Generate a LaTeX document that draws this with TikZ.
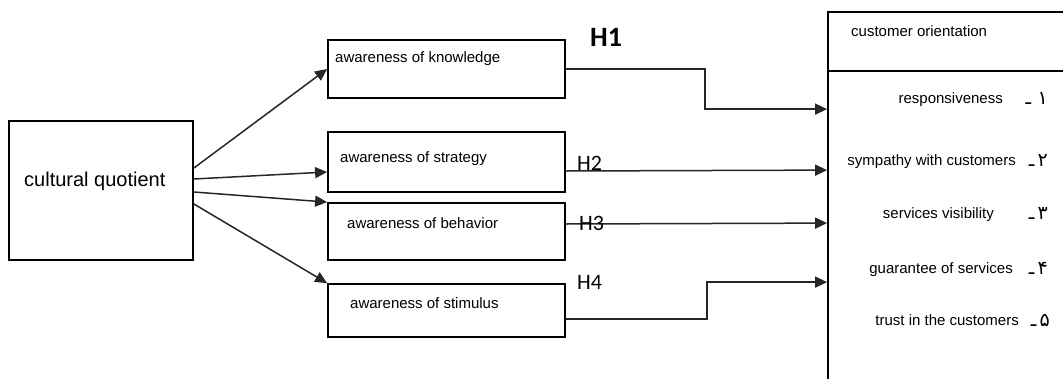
\documentclass[tikz,border=0pt]{standalone}
\usepackage{fontspec}
\setmainfont{Liberation Sans}
\newfontfamily\hypfont{Carlito}
\newfontfamily\numfont[Script=Arabic]{DejaVu Sans}
\TeXXeTstate=1
\usetikzlibrary{arrows.meta,calc,positioning}

\begin{document}
\begin{tikzpicture}[x=1pt, y=-1pt, >={Triangle[length=12pt,width=11pt]},
  box/.style={draw, line width=1.8pt, inner sep=0pt},
  conn/.style={->, line width=1.5pt, black!85},
  txt/.style={inner sep=0pt, font=\fontsize{15}{18}\selectfont},
  hyp/.style={inner sep=0pt, anchor=base west, font=\hypfont\fontsize{22}{26}\selectfont},
  num/.style={inner sep=0pt, anchor=base east, font=\numfont\fontsize{19}{22}\selectfont}]

\useasboundingbox (0,0) rectangle (1063,378);
\clip (0,0) rectangle (1063,378);

% ---- Boxes ----
\node[box, minimum width=184pt, minimum height=139pt] (cq)    at (101,190.5) {};
\node[box, minimum width=237pt, minimum height=58pt]  (know)  at (446.5,69)  {};
\node[box, minimum width=237pt, minimum height=60pt]  (strat) at (446.5,162) {};
\node[box, minimum width=237pt, minimum height=57pt]  (behav) at (446.5,231.5) {};
\node[box, minimum width=237pt, minimum height=53pt]  (stim)  at (446.5,310.5) {};
\node[box, minimum width=260pt, minimum height=400pt] (co)    at (958,212)   {};
\draw[line width=1.5pt] ($(co.north west)+(0,60)$) -- ($(co.north east)+(0,60)$);

% ---- Box texts ----
\node[txt, anchor=base west, font=\fontsize{20}{24}\selectfont] (cqT) at (24,186) {cultural quotient};
\node[txt, anchor=base west] (knowT)  at (335,62)  {awareness of knowledge};
\node[txt, anchor=base west] (stratT) at (340,162) {awareness of strategy};
\node[txt, anchor=base west] (behavT) at (347,228) {awareness of behavior};
\node[txt, anchor=base west] (stimT)  at (350,308) {awareness of stimulus};
\node[txt, anchor=base west] (coT)    at (851,36)  {customer orientation};

% ---- Dimensions of customer orientation ----
\node[txt, anchor=base east] (r1) at (1003,103) {responsiveness};
\node[txt, anchor=base east] (r2) at (1016,165) {sympathy with customers};
\node[txt, anchor=base east] (r3) at (994,218)  {services visibility};
\node[txt, anchor=base east] (r4) at (1013,273) {guarantee of services};
\node[txt, anchor=base east] (r5) at (1019,325) {trust in the customers};
\node[num] (n1) at (1048,104) {\beginR ۱\,\,ـ\endR};
\node[num] (n2) at (1048,166) {\beginR ۲\,ـ\endR};
\node[num] (n3) at (1048,219) {\beginR ۳\,ـ\endR};
\node[num] (n4) at (1048,274) {\beginR ۴\,ـ\endR};
\node[num] (n5) at (1050,326) {\beginR ۵\,ـ\endR};

% ---- Arrows from cultural quotient ----
\draw[conn] ($(cq.east)+(0,-22.5)$) -- (know.west);
\draw[conn] ($(cq.east)+(0,-11.5)$) -- ($(strat.west)+(0,10)$);
\draw[conn] ($(cq.east)+(0,1.5)$)   -- (behav.north west);
\draw[conn] ($(cq.east)+(0,13.5)$)  -- (stim.north west);

% ---- Hypotheses H1--H4 ----
\draw[conn] (know.east) -- ++(139,0) |- ($(co.north west)+(0,98)$);
\draw[conn] ($(strat.east)+(0,9)$)    -- ($(co.north west)+(0,159)$);
\draw[conn] ($(behav.east)+(0,-7.5)$) -- ($(co.north west)+(0,212)$);
\draw[conn] ($(stim.east)+(0,8.5)$) -- ++(141,0) |- ($(co.north west)+(0,271)$);

\node[hyp, font=\hypfont\bfseries\fontsize{28}{32}\selectfont] (h1) at (590,46) {H1};
\node[hyp] (h2) at (577,170) {H2};
\node[hyp] (h3) at (579,230) {H3};
\node[hyp] (h4) at (577,289) {H4};

\end{tikzpicture}
\end{document}
